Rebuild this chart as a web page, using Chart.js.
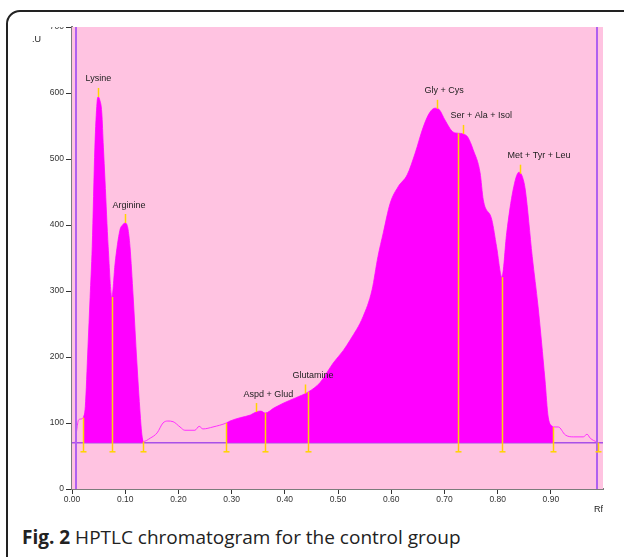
<!DOCTYPE html>
<html>
<head>
<meta charset="utf-8">
<script src="https://cdn.jsdelivr.net/npm/chart.js@4.4.1/dist/chart.umd.min.js"></script>
<style>
  html,body{margin:0;padding:0;background:#fff;}
  body{width:624px;height:557px;position:relative;overflow:hidden;}
  #frame{position:absolute;left:6px;top:10px;width:680px;height:560px;border:2px solid #222;border-radius:14px;box-sizing:border-box;}
  #wrap{position:absolute;left:0;top:0;width:624px;height:520px;}
  #mask{position:absolute;left:40px;top:13px;width:30px;height:14px;background:#fff;}
  #caption{position:absolute;left:22px;top:524px;font-family:"Open Sans",sans-serif;font-size:19px;color:#222;white-space:nowrap;}
  #caption b{font-weight:700;}
</style>
</head>
<body>
<div id="frame"></div>
<div id="wrap"><canvas id="c"></canvas></div>
<div id="mask"></div>
<div id="caption"><b>Fig. 2</b> HPTLC chromatogram for the control group</div>
<script>
// ---- data ----
const rf = [0.006,0.009,0.012,0.016,0.021,0.025,0.030,0.034,0.038,0.043,0.047,0.049,0.052,0.056,0.059,0.062,0.068,0.075,
  0.081,0.090,0.095,0.100,0.105,0.109,0.115,0.122,0.128,0.131,0.134,
  0.147,0.160,0.171,0.180,0.190,0.203,0.212,0.231,0.239,0.246,0.265,
  0.290,0.297,0.316,0.335,0.347,0.355,0.363,0.380,0.397,0.420,0.444,0.466,0.491,0.510,0.523,0.547,0.564,0.575,0.585,0.598,
  0.613,0.630,0.645,0.660,0.672,0.682,0.690,0.701,0.716,0.726,0.735,0.744,0.754,0.767,0.773,0.789,0.798,0.808,
  0.817,0.829,0.840,0.847,0.852,0.865,0.876,0.889,0.895,0.904,
  0.914,0.927,0.942,0.961,0.968,0.974,0.987,0.990];
const intensity = [70,90,104,106,108,125,215,290,367,518,585,594,590,570,518,468,367,291,
  342,392,400,403,395,367,291,191,115,85,72,
  77,85,100,103,102,94,89,89,95,91,94,
  100,103,108,112,117,118,115,123,130,138,147,161,191,210,226,261,302,352,388,433,
  458,476,509,548,570,577,575,559,541,539,538,533,514,479,438,408,367,321,
  388,453,480,472,453,352,276,165,109,94,
  94,82,79,79,83,77,71,70];

const windowStart = [0.021, 0.290];
const windowEnd   = [0.134, 0.904];
const boundaryRf  = [0.021, 0.075, 0.134, 0.290, 0.363, 0.444, 0.726, 0.808, 0.904, 0.989];
const baselineValue = 70;

const peakNames = ["Lysine","Arginine","Aspd + Glud","Glutamine","Gly + Cys","Ser + Ala + Isol","Met + Tyr + Leu"];
const peakRf    = [0.049, 0.100, 0.346, 0.438, 0.686, 0.735, 0.842];

const startLineRf = 0.0075;
const endLineRf = 0.987;

const xTicks = [0.00,0.10,0.20,0.30,0.40,0.50,0.60,0.70,0.80,0.90];
const yTicks = [0,100,200,300,400,500,600,700];

// ---- helpers ----
function interp(v){
  if (v <= rf[0]) return intensity[0];
  for (let i=1;i<rf.length;i++){
    if (v <= rf[i]){
      const t=(v-rf[i-1])/(rf[i]-rf[i-1]);
      return intensity[i-1]+t*(intensity[i]-intensity[i-1]);
    }
  }
  return baselineValue;
}
const curvePts = rf.map((x,i)=>({x:x,y:intensity[i]}));
const fillSets = windowStart.map((s,k)=>({
  data: curvePts.filter(p=>p.x>=s-1e-9 && p.x<=windowEnd[k]+1e-9),
  borderWidth:0, borderColor:'#ff00ff', backgroundColor:'#ff00ff',
  fill:{value:baselineValue}, pointRadius:0, cubicInterpolationMode:'monotone'
}));

const FONT = "'Liberation Sans', Arial, sans-serif";

const deco = {
  id:'deco',
  beforeDatasetsDraw(chart){
    const {ctx, chartArea:a, scales:{x,y}} = chart;
    ctx.save();
    ctx.fillStyle='#ffc3e1';
    ctx.fillRect(a.left,a.top,a.right-a.left,a.bottom-a.top);
    ctx.strokeStyle='#a850e8'; ctx.lineWidth=1.5;
    const by=y.getPixelForValue(baselineValue);
    ctx.beginPath(); ctx.moveTo(a.left,by); ctx.lineTo(a.right,by); ctx.stroke();
    ctx.restore();
  },
  afterDatasetsDraw(chart){
    const {ctx, chartArea:a, scales:{x,y}} = chart;
    ctx.save();
    ctx.lineWidth=2; ctx.strokeStyle='#b060f0';
    [startLineRf,endLineRf].forEach(v=>{
      const px=Math.round(x.getPixelForValue(v));
      ctx.beginPath(); ctx.moveTo(px,a.top); ctx.lineTo(px,a.bottom); ctx.stroke();
    });
    ctx.strokeStyle='#ffd400'; ctx.lineWidth=1.5;
    const by=y.getPixelForValue(baselineValue);
    boundaryRf.forEach(b=>{
      const px=Math.round(x.getPixelForValue(b))+0.5;
      const top=y.getPixelForValue(Math.max(interp(b),baselineValue));
      ctx.beginPath(); ctx.moveTo(px,top); ctx.lineTo(px,by+9); ctx.stroke();
      ctx.beginPath(); ctx.moveTo(px-3,by+9); ctx.lineTo(px+3,by+9); ctx.stroke();
    });
    ctx.font="9px "+FONT; ctx.fillStyle='#222'; ctx.textAlign='left'; ctx.textBaseline='middle';
    peakRf.forEach((p,i)=>{
      const px=Math.round(x.getPixelForValue(p))+0.5;
      const py=y.getPixelForValue(interp(p));
      ctx.strokeStyle='#ffd400'; ctx.lineWidth=1.5;
      ctx.beginPath(); ctx.moveTo(px,py); ctx.lineTo(px,py-9); ctx.stroke();
      ctx.fillText(peakNames[i], px-13, py-18);
    });
    ctx.fillStyle='#222';
    ctx.fillText('.U', 32, 40);
    ctx.fillText('Rf', 594, 510);
    ctx.restore();
  }
};

new Chart(document.getElementById('c'), {
  type:'line',
  data:{datasets:[
    ...fillSets,
    {data:curvePts, borderColor:'#ff30ff', borderWidth:1, pointRadius:0, fill:false, cubicInterpolationMode:'monotone'}
  ]},
  options:{
    responsive:true, maintainAspectRatio:false, animation:false, devicePixelRatio:1,
    layout:{padding:{left:0,right:21,top:27,bottom:0}},
    plugins:{legend:{display:false}, tooltip:{enabled:false}},
    scales:{
      x:{type:'linear', min:0, max:0.998,
        afterBuildTicks(s){ s.ticks = xTicks.map(v=>({value:v})); },
        afterFit(s){ s.height = 31; },
        grid:{display:true, drawOnChartArea:false, drawTicks:true, tickLength:5, tickColor:'#333', tickWidth:1},
        border:{display:true, color:'#7c7c7c', width:2},
        ticks:{font:{size:8.5, family:FONT}, color:'#333', padding:1, maxRotation:0, autoSkip:false,
          callback:(v)=>Number(v).toFixed(2)}
      },
      y:{type:'linear', min:0, max:700,
        afterBuildTicks(s){ s.ticks = yTicks.map(v=>({value:v})); },
        afterFit(s){ s.width = 72; },
        grid:{display:true, drawOnChartArea:false, drawTicks:true, tickLength:6, tickColor:'#333', tickWidth:1},
        border:{display:true, color:'#7c7c7c', width:2},
        ticks:{font:{size:8.5, family:FONT}, color:'#333', padding:2}
      }
    }
  },
  plugins:[deco]
});
</script>
</body>
</html>
